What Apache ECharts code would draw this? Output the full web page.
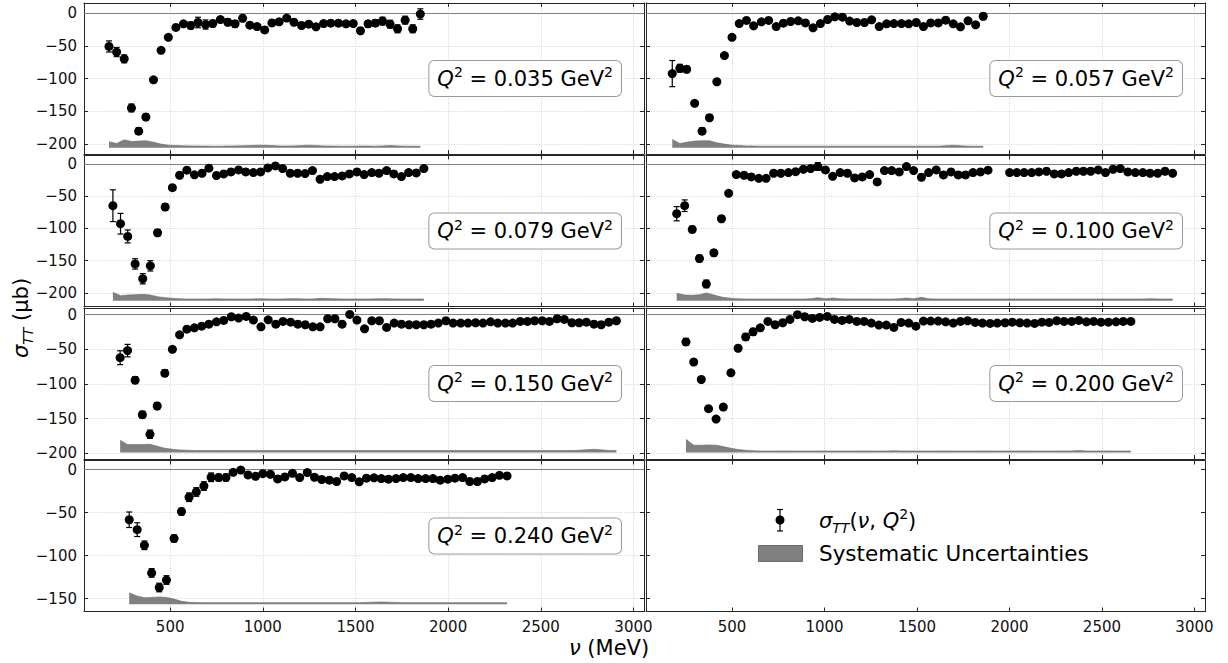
<!DOCTYPE html>
<html><head><meta charset="utf-8">
<script src="https://cdn.jsdelivr.net/npm/echarts@6/dist/echarts.min.js"></script>
<style>html,body{margin:0;padding:0;background:#fff}#c{width:1228px;height:663px}</style>
</head><body><div id="c"></div>
<script>
// ---------- DATA ----------
const q2Labels = ['0.035', '0.057', '0.079', '0.100', '0.150', '0.200', '0.240'];
const sysBase = [-206, -206, -212, -212, -199, -199, -156.5];

const nu_035 = [170,211,252,291,330,369,410,451,490,531, 572,611,650,691,730,771,811,850,891,930, 969,1010,1049,1088,1129,1168,1209,1248,1287,1328, 1367,1408,1449,1488,1527,1568,1607,1646,1687,1727, 1768,1809,1850];
const sig_035 = [-51,-59.6,-70,-145,-180.5,-159,-102,-57,-37,-22, -16.5,-19,-14.4,-17.5,-16,-10,-14,-16.5,-8,-18.5, -20.6,-25.7,-15,-13.4,-7.7,-14,-19,-17,-21,-16, -15.4,-15.4,-16.5,-16,-27,-16.5,-15.4,-12.3,-17,-24, -10.8,-24,-1.5];
const err_035 = [8.5,7,6,6,5,5,3,3,3,3, 3,5,8,7,5,4,5,5,5,4, 4,4,4,4,4,4,4,4,4,4, 4,4,4,4,4,5,5,6,6,6, 6,6,8];
const sys_035 = [9.3,6.7,12.3,9.8,10.3,10.8,8.7,5.7,4.1,3.5, 3.1,3,2.8,2.8,2.6,2.6,2.8,3,3.2,3.5, 4,4,3.5,3,2.8,3,3.6,4,3.5,3, 2.8,2.6,2.6,2.6,2.8,2.8,2.6,3,3.6,3, 2.6,2.6,2.4];

const nu_057 = [177,218,255,298,338,378,418,459,500,539, 578,617,659,698,739,778,817,858,897,938, 978,1017,1056,1097,1136,1175,1216,1255,1296,1336, 1375,1416,1455,1496,1535,1574,1615,1655,1696,1735, 1776,1817,1858];
const sig_057 = [-92.5,-84.3,-86,-138,-180.5,-160,-105,-65,-37,-16, -11.3,-19.5,-13.4,-11.3,-20.6,-15.4,-12.9,-11.8,-15,-22.6, -16,-9.8,-5.7,-6.2,-12.3,-14.4,-14.4,-10.3,-20.6,-16.5, -16,-16,-16.5,-14.4,-20.6,-15,-15,-10.8,-16.5,-21, -11.8,-18,-5];
const err_057 = [20,6,5,4,5,4,3,3,3,3, 3,3,3,3,3,3,3,3,3,3, 3,3,3,3,3,3,3,3,3,3, 3,3,3,3,3,3,3,4,3,3, 3,3,5];
const sys_057 = [12.9,6.7,8.7,10.3,10.8,10.8,7.7,5.7,4.1,3.6, 3,2.8,2.6,2.6,2.6,2.6,2.6,2.6,2.6,2.6, 2.6,2.6,2.6,2.6,2.6,2.6,2.6,2.6,2.6,2.6, 2.6,2.6,2.6,2.6,2.6,2.6,2.6,3.2,4,3.2, 2.6,2.6,2.6];

const nu_079 = [191,232,271,311,352,393,432,473,512,551, 590,631,672,709,750,789,828,869,908,949, 988,1027,1068,1107,1148,1188,1228,1268,1309,1348, 1387,1428,1467,1508,1547,1588,1627,1668,1707,1748, 1787,1828,1869];
const sig_079 = [-64.8,-92.7,-112.4,-155,-178,-158,-106.7,-66.8,-36.8,-17.6, -9.8,-17,-14.5,-6.7,-18,-15.5,-12.4,-9.3,-12.4,-13.5, -12.4,-6.2,-3.1,-7.3,-14.5,-14.5,-15,-10.4,-23.8,-19.7, -19.7,-18.7,-15.5,-12.4,-16.6,-13.5,-14.5,-10.4,-15.5,-19.7, -13.5,-14,-7.3];
const err_079 = [24.6,16,10,8,8,8,5,5,4,3, 3,3,3,3,3,3,3,3,3,3, 3,3,3,3,3,3,3,3,3,3, 3,3,3,3,3,3,3,3,3,3, 3,3,3];
const sys_079 = [13,7.8,8.8,9.3,9.8,8.8,6.2,4.7,3.6,3, 2.6,2.6,2.6,2.8,3,2.8,2.6,2.6,2.6,2.8, 3,2.8,2.6,2.8,3.2,3,2.6,2.8,3.6,3.4, 3,2.6,2.6,2.6,2.6,2.8,3,3.2,2.8,2.6, 2.6,2.6,2.6];

const nu_100 = [201,244,285,324,361,402,443,482,523,565, 604,645,684,725,764,805,844,886,925,964, 1005,1044,1085,1124,1163,1204,1244,1285,1324,1363, 1404,1443,1482,1524,1563,1604,1643,1684,1723,1762, 1803,1843,1884,2001,2040,2079,2120,2159,2200,2242, 2281,2320,2361,2400,2439,2480,2519,2560,2599,2640, 2680,2721,2760,2801,2841,2882];
const sig_100 = [-77.2,-64.8,-101.6,-146.6,-186,-137.8,-85,-45.6,-16.6,-17.6, -20.2,-22.3,-22.3,-14.5,-14.5,-13.5,-12,-8.3,-7.3,-4.1, -9.3,-19.2,-13.5,-14.5,-21.8,-20.2,-16.6,-28,-10.4,-10.4, -12.4,-4.1,-10.4,-20.7,-13.5,-9.3,-17.1,-12.4,-17.1,-17.1, -13.5,-12.4,-9.8,-13.5,-13.5,-13.5,-13.5,-12.4,-11.4,-15.5, -15.5,-13.5,-11.4,-11.4,-11.4,-9.3,-13.5,-8.3,-7.3,-12.4, -13.5,-13.5,-14.5,-14.5,-11.4,-14.5];
const err_100 = [11,9,5,5,6,5,4,3,4,3, 3,3,3,3,3,3,3,3,3,6, 3,3,3,3,3,3,3,3,3,3, 3,3,3,3,3,3,3,3,3,3, 3,3,3,3,3,3,3,3,3,3, 3,3,3,3,3,3,3,3,3,3, 3,3,3,3,3,3];
const sys_100 = [11.4,8.8,8.3,9.3,11.9,8.8,5.7,4.1,3.1,2.8, 2.6,2.6,2.6,2.6,2.6,2.6,2.6,2.6,3,4.7, 3,4.1,3,2.8,2.8,2.8,2.8,2.6,2.6,2.6, 3,4.1,3,5.2,3,2.6,2.6,2.6,2.6,2.6, 2.6,2.6,2.6,2.6,2.6,2.6,2.6,2.6,2.6,2.6, 2.6,2.6,2.6,2.6,2.6,2.6,2.6,2.6,2.6,2.6, 2.6,2.8,3,2.8,2.6,2.6];

const nu_150 = [230,270,311,350,391,430,471,512,551,590, 631,670,709,750,789,830,869,910,949,990, 1029,1070,1109,1150,1189,1229,1270,1309,1350,1389, 1428,1469,1508,1549,1588,1629,1668,1709,1748,1789, 1828,1869,1908,1947,1988,2027,2068,2107,2148,2188, 2229,2268,2309,2348,2389,2428,2467,2508,2547,2588, 2627,2668,2707,2746,2787,2826,2867,2908];
const sig_150 = [-62,-51.8,-94.4,-144.3,-172.4,-131.7,-84.3,-49.9,-29,-20.8, -18.9,-16.5,-13.6,-10.2,-8.2,-2.9,-4.8,-2.4,-7.7,-17.4, -7.3,-13.6,-9.7,-10.7,-13.6,-14.5,-17.4,-17.4,-5.8,-5.8, -13.6,0.5,-7.7,-20.3,-8.7,-8.7,-18.4,-12.1,-13.6,-14.5, -14.5,-14.5,-13.6,-12.1,-8.7,-12.1,-12.1,-12.1,-11.6,-12.1, -10.2,-12.1,-12.1,-12.1,-9.7,-9.7,-8.7,-8.7,-9.7,-5.8, -6.8,-11.6,-11.6,-10.7,-13.6,-14.5,-10.7,-8.7];
const err_150 = [10,9,5,5,6,5,5,4,3,3, 3,3,3,3,3,3,3,3,3,3, 3,3,3,3,3,3,3,3,3,3, 3,3,3,3,3,3,3,3,3,3, 3,3,3,3,3,3,3,3,3,3, 3,3,3,3,3,3,3,3,3,3, 3,3,3,3,3,3,3,3];
const sys_150 = [17.9,11.6,11.6,11.6,12.1,9.2,6.3,4.8,3.9,3.4, 3,3,3,3,3,3,3,3,3,3, 3,3,3,3,3,3,3,3,3,3, 3,3,3,3,3,3,3,3,3,3, 3,3,3,3,3,3,3,3,3,3, 3,3,3,3,3,3,3,3,3,3, 3,3,3.4,4.2,4.8,4,3.2,3];

const nu_200 = [251,293,334,373,414,453,494,533,574,614, 653,694,733,774,813,854,893,934,974,1015, 1054,1095,1134,1175,1214,1253,1294,1334,1375,1414, 1455,1494,1535,1574,1615,1655,1696,1735,1774,1815, 1854,1895,1934,1976,2015,2056,2095,2136,2175,2214, 2255,2295,2336,2375,2416,2455,2495,2535,2576,2615, 2656];
const sig_200 = [-39.2,-68.3,-93.5,-135.6,-150.6,-133.2,-83.8,-48.4,-32,-24.7, -18.9,-9.7,-14.5,-11.6,-6.8,0,-2.9,-5.3,-3.9,-2.4, -6.8,-8.2,-6.8,-9.7,-9.7,-12.1,-15,-15,-18.4,-11.1, -12.1,-16.5,-9.2,-9.2,-9.2,-10.2,-12.1,-9.7,-8.7,-11.1, -12.1,-12.6,-12.1,-11.6,-10.7,-11.6,-12.1,-12.6,-10.7,-11.1, -8.7,-9.7,-9.7,-8.2,-10.2,-9.7,-10.7,-10.7,-10.2,-9.7, -9.7];
const err_200 = [5,4,3,3,3,4,3,4,5,5, 3,3,3,3,3,3,3,3,3,3, 3,3,3,3,3,3,3,3,3,3, 3,3,3,3,3,3,3,3,3,3, 3,3,3,3,3,3,3,3,3,3, 3,3,3,3,3,3,3,3,3,3, 3];
const sys_200 = [19.4,10.7,10.7,11.1,10.7,8.7,6.3,4.4,3.4,2.8, 2.4,2.4,2.4,2.4,2.4,2.4,2.4,2.4,2.4,2.4, 2.4,2.4,2.4,2.4,2.4,2.4,2.4,2.4,2.8,2.4, 2.4,2.4,2.4,2.4,2.4,2.4,2.4,2.4,2.4,2.4, 2.4,2.4,2.4,2.4,2.4,2.4,2.4,2.4,2.4,2.4, 2.4,2.4,2.4,3.2,2.4,2.4,2.4,2.4,2.4,2.4, 2.4];

const nu_240 = [279,322,361,400,441,480,521,561,602,641, 682,721,762,801,840,881,920,961,1000,1041, 1080,1119,1160,1199,1240,1279,1318,1359,1398,1439, 1480,1520,1559,1600,1639,1678,1719,1758,1799,1838, 1879,1918,1957,1998,2037,2078,2117,2158,2197,2238, 2277,2318];
const sig_240 = [-58.2,-69.7,-87.9,-120,-137,-128.3,-80,-48.7,-32,-25.9, -19,-8.8,-9.1,-9.1,-3,-0.4,-6.1,-7.6,-4.6,-5.3, -10.7,-8.4,-4.2,-9.1,-3.4,-8.8,-11.4,-12.2,-13.7,-7.2, -9.1,-14.1,-9.9,-9.5,-10.3,-11,-10.3,-9.1,-9.1,-10.3, -10.3,-10.3,-12.2,-11,-9.9,-9.1,-13.7,-13.7,-10.7,-9.1, -6.5,-7.2];
const err_240 = [9,8,5,5,5,5,4,4,5,5, 5,5,4,4,3,3,3,3,3,3, 3,3,3,3,3,3,3,3,3,3, 3,3,3,3,3,3,3,3,3,3, 3,3,3,3,3,3,3,3,3,3, 3,3];
const sys_240 = [13.3,9.5,7.6,8,8.4,8,6.1,3.4,2.3,2, 1.9,1.9,1.9,1.9,1.9,1.9,1.9,1.9,1.9,1.9, 1.9,1.9,1.9,1.9,1.9,1.9,1.9,1.9,1.9,1.9, 1.9,1.9,2.2,2.5,2.7,2.5,2.2,1.9,1.9,1.9, 1.9,1.9,1.9,1.9,1.9,1.9,1.9,1.9,1.9,1.9, 1.9,1.9];

const panelData = [
  [nu_035, sig_035, err_035, sys_035],
  [nu_057, sig_057, err_057, sys_057],
  [nu_079, sig_079, err_079, sys_079],
  [nu_100, sig_100, err_100, sys_100],
  [nu_150, sig_150, err_150, sys_150],
  [nu_200, sig_200, err_200, sys_200],
  [nu_240, sig_240, err_240, sys_240]
];

// ---------- LAYOUT / STYLE ----------
const FONT = 'DejaVu Sans';
const X_MIN = 35, X_MAX = 3057;
const colLeft = [84, 646], colWidth = [560, 559];
const rowTop = [3, 155.5, 308, 460.5], rowH = 151;
const rowY = [[-215.4, 15.4], [-221, 13], [-208.2, 9.7], [-164.9, 10.7]];
const FRAME = '#262626';

const grids = [], xAxes = [], yAxes = [], series = [], graphics = [];

function minus(v) { return String(v).replace('-', '\u2212'); }

for (let g = 0; g < 8; g++) {
  const row = Math.floor(g / 2), col = g % 2;
  const isData = g < 7;
  grids.push({ left: colLeft[col], top: rowTop[row], width: colWidth[col], height: rowH, containLabel: false });
  const tick = { show: true, inside: true, length: 4, lineStyle: { color: FRAME, width: 1 } };
  const line = { show: true, onZero: false, lineStyle: { color: FRAME, width: 1 } };
  const split = { show: isData, lineStyle: { color: '#c8c8c8', width: 0.8, type: [1, 1.5] } };
  xAxes.push({
    type: 'value', gridIndex: g, position: 'bottom', min: X_MIN, max: X_MAX,
    minInterval: 500, maxInterval: 500,
    axisLine: line, axisTick: tick, splitLine: split,
    axisLabel: { show: row === 3, color: '#111', fontSize: 15, fontFamily: FONT, margin: 8,
      formatter: v => (Math.abs(v % 500) < 1e-6 ? String(v) : '') }
  });
  xAxes.push({
    type: 'value', gridIndex: g, position: 'top', min: X_MIN, max: X_MAX,
    minInterval: 500, maxInterval: 500,
    axisLine: line, axisTick: tick, splitLine: { show: false }, axisLabel: { show: false }
  });
  yAxes.push({
    type: 'value', gridIndex: g, position: 'left', min: rowY[row][0], max: rowY[row][1],
    minInterval: 50, maxInterval: 50,
    axisLine: line, axisTick: tick, splitLine: split,
    axisLabel: { show: col === 0, color: '#111', fontSize: 15, fontFamily: FONT, margin: 7,
      formatter: v => (Math.abs(v % 50) < 1e-6 ? minus(v) : '') }
  });
  yAxes.push({
    type: 'value', gridIndex: g, position: 'right', min: rowY[row][0], max: rowY[row][1],
    minInterval: 50, maxInterval: 50,
    axisLine: line, axisTick: tick, splitLine: { show: false }, axisLabel: { show: false }
  });

  if (!isData) continue;
  const [nu, sig, err, sys] = panelData[g];
  const base = sysBase[g];
  series.push({
    name: 'Systematic Uncertainties', type: 'line', xAxisIndex: 2 * g, yAxisIndex: 2 * g,
    data: nu.map((x, k) => [x, base + sys[k]]),
    symbol: 'none', showSymbol: false, silent: true, z: 2,
    lineStyle: { color: '#6a6a6a', width: 0.6 },
    areaStyle: { color: '#808080', opacity: 1, origin: base },
    markLine: { silent: true, symbol: 'none', label: { show: false }, animation: false,
      lineStyle: { color: '#808080', type: 'solid', width: 1 }, data: [{ yAxis: 0 }] }
  });
  series.push({
    name: 'sigma', type: 'custom', xAxisIndex: 2 * g, yAxisIndex: 2 * g, z: 5,
    data: nu.map((x, k) => [x, sig[k], err[k]]),
    encode: { x: 0, y: 1 },
    renderItem: function (params, api) {
      const x = api.value(0), y = api.value(1), e = api.value(2);
      const p = api.coord([x, y]);
      const hi = api.coord([x, y + e]), lo = api.coord([x, y - e]);
      const cw = 3, st = { stroke: '#000', lineWidth: 1.2 };
      return { type: 'group', children: [
        { type: 'line', shape: { x1: p[0], y1: hi[1], x2: p[0], y2: lo[1] }, style: st },
        { type: 'line', shape: { x1: p[0] - cw, y1: hi[1], x2: p[0] + cw, y2: hi[1] }, style: st },
        { type: 'line', shape: { x1: p[0] - cw, y1: lo[1], x2: p[0] + cw, y2: lo[1] }, style: st },
        { type: 'circle', shape: { cx: p[0], cy: p[1], r: 4.5 }, style: { fill: '#000' } }
      ] };
    }
  });

  // Q^2 label box
  const rightEdge = col === 0 ? 622 : 1183;
  graphics.push({
    type: 'text', x: rightEdge - 1, y: rowTop[row] + rowH / 2, z: 50,
    style: {
      text: '{q|Q}{s|2}{n| = ' + q2Labels[g] + ' GeV}{s|2}',
      align: 'right', verticalAlign: 'middle',
      backgroundColor: '#fff', borderColor: '#9a9a9a', borderWidth: 1, borderRadius: 5,
      padding: [4, 8, 4, 8],
      rich: {
        q: { fontFamily: FONT, fontSize: 21, fontStyle: 'italic', lineHeight: 27, fill: '#000' },
        n: { fontFamily: FONT, fontSize: 21, lineHeight: 27, fill: '#000' },
        s: { fontFamily: FONT, fontSize: 14, lineHeight: 14, verticalAlign: 'top', fill: '#000' }
      }
    }
  });
}

// axis titles
graphics.push({
  type: 'text', x: 21, y: 318, rotation: Math.PI / 2, z: 50,
  style: {
    text: '{i|\u03c3}{b|TT}{n| (\u03bcb)}', align: 'center', verticalAlign: 'middle',
    rich: {
      i: { fontFamily: FONT, fontSize: 21, fontStyle: 'italic', lineHeight: 28, fill: '#000' },
      b: { fontFamily: FONT, fontSize: 14, fontStyle: 'italic', lineHeight: 14, verticalAlign: 'bottom', fill: '#000' },
      n: { fontFamily: FONT, fontSize: 21, lineHeight: 28, fill: '#000' }
    }
  }
});
graphics.push({
  type: 'text', x: 609, y: 648, z: 50,
  style: {
    text: '{i|\u03bd}{n| (MeV)}', align: 'center', verticalAlign: 'middle',
    rich: {
      i: { fontFamily: FONT, fontSize: 21, fontStyle: 'italic', fill: '#000' },
      n: { fontFamily: FONT, fontSize: 21, fill: '#000' }
    }
  }
});

// legend (drawn in the empty panel)
graphics.push(
  { type: 'line', shape: { x1: 780, y1: 509.5, x2: 780, y2: 531 }, style: { stroke: '#000', lineWidth: 1.2 }, z: 50 },
  { type: 'line', shape: { x1: 777, y1: 509.5, x2: 783, y2: 509.5 }, style: { stroke: '#000', lineWidth: 1.2 }, z: 50 },
  { type: 'line', shape: { x1: 777, y1: 531, x2: 783, y2: 531 }, style: { stroke: '#000', lineWidth: 1.2 }, z: 50 },
  { type: 'circle', shape: { cx: 780, cy: 520, r: 4.5 }, style: { fill: '#000' }, z: 50 },
  { type: 'rect', shape: { x: 758.5, y: 545.5, width: 44, height: 16 }, style: { fill: '#808080', stroke: '#6a6a6a', lineWidth: 1 }, z: 50 },
  { type: 'text', x: 819, y: 521, z: 50,
    style: {
      text: '{i|\u03c3}{b|TT}{n|(}{i|\u03bd}{n|, }{i|Q}{s|2}{n|)}', align: 'left', verticalAlign: 'middle',
      rich: {
        i: { fontFamily: FONT, fontSize: 21, fontStyle: 'italic', lineHeight: 28, fill: '#000' },
        n: { fontFamily: FONT, fontSize: 21, lineHeight: 28, fill: '#000' },
        b: { fontFamily: FONT, fontSize: 14, fontStyle: 'italic', lineHeight: 14, verticalAlign: 'bottom', fill: '#000' },
        s: { fontFamily: FONT, fontSize: 14, lineHeight: 14, verticalAlign: 'top', fill: '#000' }
      }
    } },
  { type: 'text', x: 819, y: 553, z: 50,
    style: { text: 'Systematic Uncertainties', align: 'left', verticalAlign: 'middle',
      fontFamily: FONT, fontSize: 21.5, fill: '#000' } }
);

const chart = echarts.init(document.getElementById('c'), null, { renderer: 'svg' });
chart.setOption({
  animation: false,
  backgroundColor: '#fff',
  grid: grids, xAxis: xAxes, yAxis: yAxes, series: series, graphic: graphics
});
</script></body></html>
